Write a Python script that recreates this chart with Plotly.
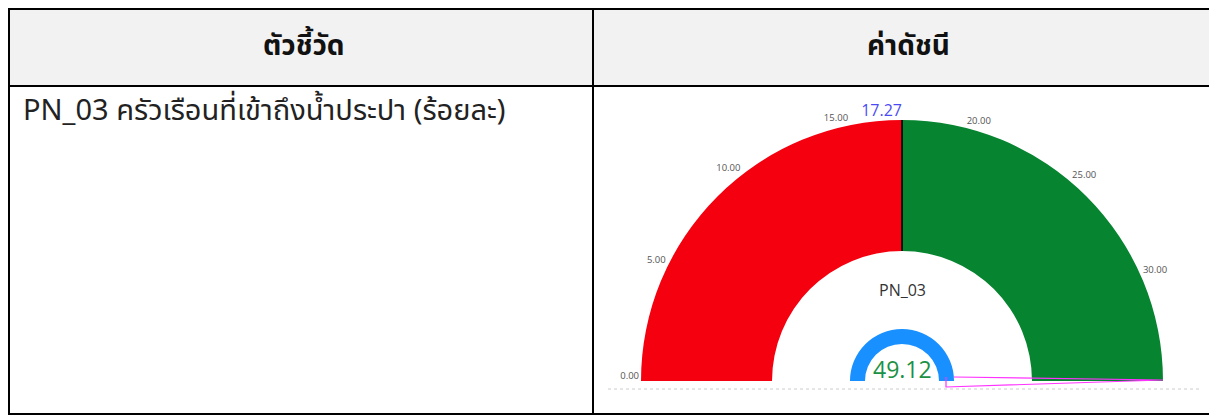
import plotly.graph_objects as go

# ---- data ----
header_labels = ["ตัวชี้วัด", "ค่าดัชนี"]
indicator_names = ["PN_03 ครัวเรือนที่เข้าถึงน้ำประปา (ร้อยละ)"]
gauge_code = "PN_03"
gauge_value = 17.27
gauge_max = 34.54
tick_values = [0, 5, 10, 15, 20, 25, 30]
tick_labels = ["0.00", "5.00", "10.00", "15.00", "20.00", "25.00", "30.00"]
inner_value = 49.12
inner_max = 49.12

# page body has an 8px margin: figure is sized to the visible area
OFF = 8
FW, FH = 1209, 409


def px(x):
    return (x - OFF) / FW


def py(y):
    return 1 - (y - OFF) / FH


RED = "#F5000F"
GREEN = "#068430"
BLUE = "#1890FF"
THAI_FONT = "Leelawadee UI, Tahoma, Noto Sans Thai, sans-serif"
UI_FONT = "Segoe UI, Open Sans, sans-serif"


def to_deg(v, vmax):
    return v / vmax * 180.0


fig = go.Figure()

# Table grid (header + one row); texts placed as annotations below
fig.add_trace(go.Table(
    domain=dict(x=[px(9), px(1215)], y=[0, py(9)]),
    columnwidth=[584, 622],
    header=dict(
        values=["", ""],
        fill_color="#F2F2F2",
        line=dict(color="black", width=2),
        height=77,
    ),
    cells=dict(
        values=[[""], [""]],
        fill_color="rgba(0,0,0,0)",
        line=dict(color="black", width=2),
        height=328,
    ),
))

R_OUT, R_IN = 261, 130
R_LBL = 263
R_MAX = 290
B_OUT, B_IN = 52, 37
CX, CY = 902, 381  # gauge centre (screen px)

# main gauge ring
fig.add_trace(go.Barpolar(
    r=[R_OUT - R_IN, R_OUT - R_IN],
    base=[R_IN, R_IN],
    theta=[to_deg(gauge_value / 2, gauge_max), to_deg((gauge_value + gauge_max) / 2, gauge_max)],
    width=[to_deg(gauge_value, gauge_max), to_deg(gauge_max - gauge_value, gauge_max)],
    marker=dict(color=[RED, GREEN], line=dict(width=0)),
    hoverinfo="skip",
    subplot="polar",
))

# inner small gauge
fig.add_trace(go.Barpolar(
    r=[B_OUT - B_IN],
    base=[B_IN],
    theta=[to_deg(inner_value / 2, inner_max)],
    width=[to_deg(inner_value, inner_max)],
    marker=dict(color=[BLUE], line=dict(width=0)),
    hoverinfo="skip",
    subplot="polar",
))

# divider line at value
fig.add_trace(go.Scatterpolar(
    r=[R_IN, R_OUT],
    theta=[to_deg(gauge_value, gauge_max)] * 2,
    mode="lines",
    line=dict(color="black", width=1.6),
    hoverinfo="skip",
    subplot="polar",
))

# scale labels (anchored outward from the arc)
fig.add_trace(go.Scatterpolar(
    r=[R_LBL] * len(tick_values),
    theta=[to_deg(v, gauge_max) for v in tick_values],
    mode="text",
    text=tick_labels,
    textposition=["top left" if v < gauge_max / 2 else "top right" for v in tick_values],
    textfont=dict(size=9.5, color="#555555", family=UI_FONT),
    hoverinfo="skip",
    subplot="polar",
    cliponaxis=False,
))

# value label at top
fig.add_trace(go.Scatterpolar(
    r=[R_OUT],
    theta=[to_deg(gauge_value, gauge_max)],
    mode="text",
    text=[f"{gauge_value:.2f}"],
    textposition="top left",
    textfont=dict(size=16, color="#4B4BF5", family=UI_FONT),
    hoverinfo="skip",
    subplot="polar",
    cliponaxis=False,
))

fig.update_layout(
    width=FW, height=FH,
    margin=dict(l=0, r=0, t=0, b=0),
    paper_bgcolor="white",
    showlegend=False,
    polar=dict(
        domain=dict(x=[px(CX - R_MAX), px(CX + R_MAX)], y=[py(CY), py(CY - R_MAX)]),
        sector=[0, 180],
        hole=0,
        bgcolor="rgba(0,0,0,0)",
        radialaxis=dict(range=[0, R_MAX], visible=False),
        angularaxis=dict(
            rotation=180,
            direction="clockwise",
            showticklabels=False,
            ticks="",
            showline=False,
            showgrid=False,
        ),
    ),
    annotations=[
        dict(text=f"<b>{header_labels[0]}</b>", x=px(304), y=py(47), xref="paper", yref="paper",
             xanchor="center", yanchor="middle", showarrow=False,
             font=dict(size=28, color="#111111", family=THAI_FONT)),
        dict(text=f"<b>{header_labels[1]}</b>", x=px(908), y=py(47), xref="paper", yref="paper",
             xanchor="center", yanchor="middle", showarrow=False,
             font=dict(size=28, color="#111111", family=THAI_FONT)),
        dict(text=indicator_names[0], x=px(21), y=py(111), xref="paper", yref="paper",
             xanchor="left", yanchor="middle", showarrow=False,
             font=dict(size=29, color="#222222", family=THAI_FONT)),
        dict(text=gauge_code, x=px(CX), y=py(290), xref="paper", yref="paper",
             xanchor="center", yanchor="middle", showarrow=False,
             font=dict(size=16, color="#333333", family=UI_FONT)),
        dict(text=f"{inner_value:.2f}", x=px(CX), y=py(369), xref="paper", yref="paper",
             xanchor="center", yanchor="middle", showarrow=False,
             font=dict(size=23, color="#1B9143", family=UI_FONT)),
    ],
    shapes=[
        dict(type="line", xref="paper", yref="paper", x0=px(608), x1=px(1200),
             y0=py(389), y1=py(389), line=dict(color="#CCCCCC", width=1, dash="dot")),
        dict(type="path", xref="paper", yref="paper",
             path=(f"M {px(954)},{py(377)} L {px(1163)},{py(380)} "
                   f"L {px(946)},{py(387)} L {px(946)},{py(377)}"),
             line=dict(color="#FF33FF", width=1.2)),
    ],
)

fig.write_html("out.html")
